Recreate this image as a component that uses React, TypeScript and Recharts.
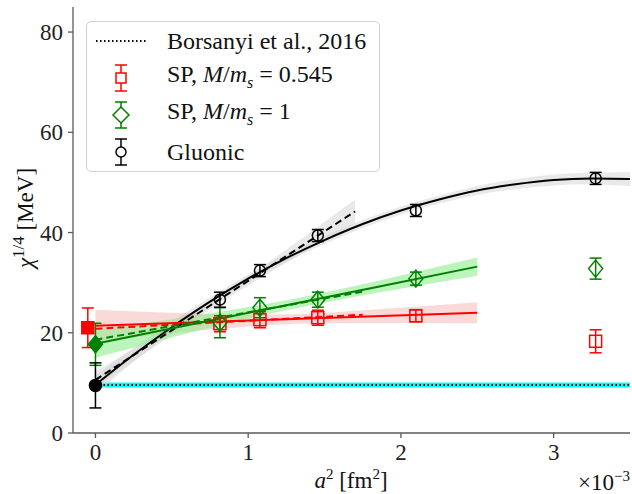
import React from "react";
import { ComposedChart, XAxis, YAxis, Scatter, Line, Area, ErrorBar } from "recharts";

// lattice spacings a^2, in units of 1e-3 fm^2
const a2 = [0.815, 1.077, 1.456, 2.098, 3.275];

const gluonic = [26.6, 32.4, 39.4, 44.4, 50.8];
const gluonicErr = [1.5, 1.2, 1.2, 1.2, 1.2];
const spOne = [22.0, 25.0, 26.6, 30.8, 32.8];
const spOneErr = [3.0, 2.0, 1.5, 1.3, 2.1];
const spLight = [21.8, 22.6, 23.0, 23.4, 18.3];
const spLightErr = [1.6, 1.6, 1.5, 1.2, 2.3];

// continuum values (filled markers)
const contGluonic = { x: 0, y: 9.5, err: 4.5 };
const contSpOne = { x: 0, y: 17.7, err: 4.2 };
const contSpLight = { x: -0.05, y: 21.0, err: 3.95 };

// fit curves
const quadX = [0, 0.25, 0.5, 0.75, 1.0, 1.25, 1.5, 1.75, 2.0, 2.25, 2.5, 2.75, 3.0, 3.25, 3.5];
const quadY = [9.6, 15.6, 21.1, 26.2, 30.8, 34.9, 38.5, 41.7, 44.4, 46.6, 48.4, 49.65, 50.5, 50.8, 50.7];
const quadErr = [1.8, 1.4, 1.1, 0.9, 0.8, 0.8, 0.8, 0.8, 0.8, 0.8, 0.9, 1.0, 1.1, 1.2, 1.4];

const linBlackX = [0, 0.85, 1.7];
const linBlackY = [10.6, 27.4, 44.2];
const linBlackErr = [1.6, 0.8, 2.4];

const fitX = [0, 0.625, 1.25, 1.875, 2.5];
const greenFit = [17.8, 21.65, 25.5, 29.35, 33.2];
const greenFitErr = [2.8, 1.6, 1.0, 1.2, 1.8];
const redFit = [21.4, 22.05, 22.7, 23.35, 24.0];
const redFitErr = [3.2, 1.8, 1.0, 1.4, 2.1];

const dashX = [0, 1.75];
const greenDash = [18.6, 28.2];
const redDash = [20.8, 23.6];

const borsanyiX = [0, 3.5];
const borsanyi = [9.6, 9.6];
const borsanyiErr = [0.5, 0.5];

const pts = (ys: number[], es: number[]) => a2.map((x, i) => ({ x, y: ys[i], err: es[i] }));
const curve = (xs: number[], ys: number[], es?: number[]) =>
  xs.map((x, i) => ({ x, y: ys[i], band: es ? [ys[i] - es[i], ys[i] + es[i]] : undefined }));

const RED = "#ff0000";
const GREEN = "#008000";
const BLACK = "#000000";
const SPINE = "#5a5a5a";
const FONT = "'Liberation Serif', 'DejaVu Serif', serif";

const square = (filled: boolean, c: string) => (p: any) => (
  <rect x={p.cx - 6} y={p.cy - 6} width={12} height={12} fill={filled ? c : "none"} stroke={c} strokeWidth={1.5} />
);
const diamond = (filled: boolean, c: string) => (p: any) => (
  <path
    d={`M${p.cx},${p.cy - 8.5} L${p.cx + 7},${p.cy} L${p.cx},${p.cy + 8.5} L${p.cx - 7},${p.cy} Z`}
    fill={filled ? c : "none"}
    stroke={c}
    strokeWidth={1.5}
  />
);
const circle = (filled: boolean, c: string) => (p: any) => (
  <circle cx={p.cx} cy={p.cy} r={filled ? 6 : 5.5} fill={filled ? c : "none"} stroke={c} strokeWidth={1.5} />
);

function LegendMarker({ kind, color }: { kind: string; color: string }) {
  return (
    <svg width={60} height={30} style={{ display: "block" }}>
      {kind === "dot" ? (
        <line x1={5} y1={15} x2={55} y2={15} stroke="#000" strokeWidth={2} strokeDasharray="1.5 2.5" />
      ) : (
        <g stroke={color} strokeWidth={1.5} fill="none">
          <line x1={30} y1={2} x2={30} y2={28} />
          <line x1={24} y1={2} x2={36} y2={2} />
          <line x1={24} y1={28} x2={36} y2={28} />
          {kind === "sq" && <rect x={25} y={10} width={10} height={10} fill="#fff" />}
          {kind === "di" && <path d="M30,7 L38,15 L30,23 L22,15 Z" fill="#fff" />}
          {kind === "ci" && <circle cx={30} cy={15} r={5} fill="#fff" />}
        </g>
      )}
    </svg>
  );
}

export default function App() {
  const xDomain = [-0.147, 3.5];
  const common = { isAnimationActive: false, legendType: "none" as const };
  return (
    <div style={{ position: "absolute", left: 0, top: 0, width: 632, height: 494, fontFamily: FONT }}>
      <ComposedChart width={632} height={494} margin={{ top: 7, right: 2, left: 0, bottom: 0 }}>
        <XAxis
          dataKey="x"
          type="number"
          domain={xDomain}
          allowDataOverflow
          ticks={[0, 1, 2, 3]}
          height={61}
          tickSize={5}
          tickMargin={6}
          stroke={SPINE}
          strokeWidth={1.3}
          tick={{ fill: "#222", fontSize: 23, fontFamily: FONT }}
        />
        <XAxis xAxisId="top" orientation="top" type="number" domain={xDomain} allowDataOverflow height={0} tick={false} tickLine={false} stroke={SPINE} strokeWidth={1.3} />
        <YAxis
          type="number"
          domain={[0, 85]}
          allowDataOverflow
          ticks={[0, 20, 40, 60, 80]}
          width={73}
          tickSize={5}
          tickMargin={5}
          stroke={SPINE}
          strokeWidth={1.3}
          tick={{ fill: "#222", fontSize: 23, fontFamily: FONT }}
        />
        <YAxis yAxisId="right" orientation="right" type="number" domain={[0, 85]} allowDataOverflow width={0} tick={false} tickLine={false} stroke={SPINE} strokeWidth={1.3} />

        {/* uncertainty bands */}
        <Area {...common} data={curve(borsanyiX, borsanyi, borsanyiErr)} dataKey="band" type="linear" stroke="none" fill="#00ffff" fillOpacity={1} />
        <Area {...common} data={curve(quadX, quadY, quadErr)} dataKey="band" type="natural" stroke="none" fill="#d3d3d3" fillOpacity={0.5} />
        <Area {...common} data={curve(linBlackX, linBlackY, linBlackErr)} dataKey="band" type="natural" stroke="none" fill="#d3d3d3" fillOpacity={0.5} />
        <Area {...common} data={curve(fitX, redFit, redFitErr)} dataKey="band" type="natural" stroke="none" fill="#f08080" fillOpacity={0.3} />
        <Area {...common} data={curve(fitX, greenFit, greenFitErr)} dataKey="band" type="natural" stroke="none" fill="#90ee90" fillOpacity={0.6} />

        {/* fit lines */}
        <Line {...common} data={curve(borsanyiX, borsanyi)} dataKey="y" type="linear" stroke="#000" strokeWidth={2} strokeDasharray="1.5 2.5" dot={false} />
        <Line {...common} data={curve(quadX, quadY)} dataKey="y" type="natural" stroke={BLACK} strokeWidth={2} dot={false} />
        <Line {...common} data={curve(linBlackX, linBlackY)} dataKey="y" type="linear" stroke={BLACK} strokeWidth={2} strokeDasharray="7 4" dot={false} />
        <Line {...common} data={curve(fitX, redFit)} dataKey="y" type="linear" stroke={RED} strokeWidth={2} dot={false} />
        <Line {...common} data={curve(dashX, redDash)} dataKey="y" type="linear" stroke={RED} strokeWidth={2} strokeDasharray="7 4" dot={false} />
        <Line {...common} data={curve(fitX, greenFit)} dataKey="y" type="linear" stroke={GREEN} strokeWidth={2} dot={false} />
        <Line {...common} data={curve(dashX, greenDash)} dataKey="y" type="linear" stroke={GREEN} strokeWidth={2} strokeDasharray="7 4" dot={false} />

        {/* data points */}
        <Scatter {...common} data={pts(spLight, spLightErr)} dataKey="y" shape={square(false, RED)}>
          <ErrorBar dataKey="err" direction="y" width={6} stroke={RED} strokeWidth={1.5} />
        </Scatter>
        <Scatter {...common} data={pts(spOne, spOneErr)} dataKey="y" shape={diamond(false, GREEN)}>
          <ErrorBar dataKey="err" direction="y" width={6} stroke={GREEN} strokeWidth={1.5} />
        </Scatter>
        <Scatter {...common} data={pts(gluonic, gluonicErr)} dataKey="y" shape={circle(false, BLACK)}>
          <ErrorBar dataKey="err" direction="y" width={6} stroke={BLACK} strokeWidth={1.5} />
        </Scatter>
        <Scatter {...common} data={[contSpLight]} dataKey="y" shape={square(true, RED)}>
          <ErrorBar dataKey="err" direction="y" width={6} stroke={RED} strokeWidth={1.5} />
        </Scatter>
        <Scatter {...common} data={[contSpOne]} dataKey="y" shape={diamond(true, GREEN)}>
          <ErrorBar dataKey="err" direction="y" width={6} stroke={GREEN} strokeWidth={1.5} />
        </Scatter>
        <Scatter {...common} data={[contGluonic]} dataKey="y" shape={circle(true, BLACK)}>
          <ErrorBar dataKey="err" direction="y" width={6} stroke={BLACK} strokeWidth={1.5} />
        </Scatter>
      </ComposedChart>

      {/* legend */}
      <div
        style={{
          position: "absolute",
          left: 86,
          top: 21,
          width: 294,
          height: 151,
          border: "1px solid #d0d0d0",
          borderRadius: 5,
          background: "rgba(255,255,255,0.8)",
          boxSizing: "border-box",
          fontSize: 24,
          color: "#111",
        }}
      >
        {[
          { kind: "dot", color: "#000", label: <>Borsanyi et al., 2016</> },
          { kind: "sq", color: RED, label: <>SP, <i>M</i>/<i>m</i><sub style={{ fontSize: 16 }}><i>s</i></sub> = 0.545</> },
          { kind: "di", color: GREEN, label: <>SP, <i>M</i>/<i>m</i><sub style={{ fontSize: 16 }}><i>s</i></sub> = 1</> },
          { kind: "ci", color: BLACK, label: <>Gluonic</> },
        ].map((r, i) => (
          <div key={i} style={{ position: "absolute", left: 4, top: 4 + i * 37, height: 30, display: "flex", alignItems: "center", whiteSpace: "nowrap" }}>
            <LegendMarker kind={r.kind} color={r.color} />
            <span style={{ marginLeft: 16, lineHeight: "30px" }}>{r.label}</span>
          </div>
        ))}
      </div>

      {/* axis labels */}
      <div
        style={{
          position: "absolute",
          left: 24,
          top: 218,
          transform: "translate(-50%, -50%) rotate(-90deg)",
          whiteSpace: "nowrap",
          fontSize: 23,
          color: "#111",
        }}
      >
        <i>χ</i>
        <sup style={{ fontSize: 17 }}>1/4</sup> [MeV]
      </div>
      <div style={{ position: "absolute", left: 351, top: 466, transform: "translateX(-50%)", whiteSpace: "nowrap", fontSize: 23, color: "#111" }}>
        <i>a</i>
        <sup style={{ fontSize: 15 }}>2</sup> [fm<sup style={{ fontSize: 15 }}>2</sup>]
      </div>
      <div style={{ position: "absolute", right: 2, top: 468, whiteSpace: "nowrap", fontSize: 23, color: "#111" }}>
        ×10<sup style={{ fontSize: 15 }}>−3</sup>
      </div>
    </div>
  );
}
